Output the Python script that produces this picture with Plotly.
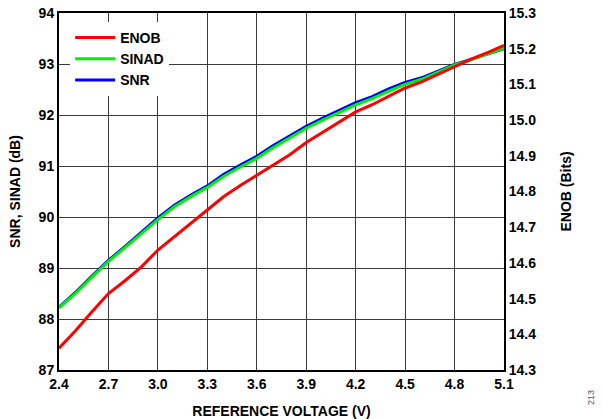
import plotly.graph_objects as go

voltage = [2.4, 2.5, 2.6, 2.7, 2.8, 2.9, 3.0, 3.1, 3.2, 3.3, 3.4, 3.5, 3.6, 3.7,
           3.8, 3.9, 4.0, 4.1, 4.2, 4.3, 4.4, 4.5, 4.6, 4.7, 4.8, 4.9, 5.0, 5.1]

sinad_db = [88.22, 88.50, 88.82, 89.13, 89.40, 89.67, 89.95, 90.20, 90.40, 90.58,
            90.80, 90.98, 91.15, 91.36, 91.55, 91.74, 91.90, 92.05, 92.20, 92.32,
            92.47, 92.60, 92.70, 92.84, 92.98, 93.08, 93.19, 93.31]

snr_db = [88.23, 88.52, 88.84, 89.15, 89.42, 89.70, 89.98, 90.23, 90.43, 90.61,
          90.84, 91.02, 91.19, 91.40, 91.59, 91.78, 91.94, 92.09, 92.24, 92.36,
          92.51, 92.64, 92.73, 92.86, 92.99, 93.09, 93.19, 93.30]

enob_bits = [14.361, 14.410, 14.463, 14.514, 14.550, 14.589, 14.636, 14.674, 14.711,
             14.749, 14.786, 14.817, 14.846, 14.874, 14.903, 14.937, 14.966, 14.994,
             15.023, 15.043, 15.066, 15.090, 15.107, 15.129, 15.151, 15.171, 15.189,
             15.209]

x_ticks = [2.4, 2.7, 3.0, 3.3, 3.6, 3.9, 4.2, 4.5, 4.8, 5.1]
x_tick_labels = ["2.4", "2.7", "3.0", "3.3", "3.6", "3.9", "4.2", "4.5", "4.8", "5.1"]
left_ticks = [87, 88, 89, 90, 91, 92, 93, 94]
right_ticks = [14.3, 14.4, 14.5, 14.6, 14.7, 14.8, 14.9, 15.0, 15.1, 15.2, 15.3]
right_tick_labels = ["14.3", "14.4", "14.5", "14.6", "14.7", "14.8", "14.9",
                     "15.0", "15.1", "15.2", "15.3"]

FONT = "Liberation Sans, Arial, sans-serif"
TF = dict(family=FONT, size=14, color="black", weight="bold")

fig = go.Figure()
fig.add_trace(go.Scatter(x=voltage, y=snr_db, name="SNR", mode="lines",
                         line=dict(color="#0000FF", width=3), yaxis="y"))
fig.add_trace(go.Scatter(x=voltage, y=sinad_db, name="SINAD", mode="lines",
                         line=dict(color="#00F000", width=3), yaxis="y"))
fig.add_trace(go.Scatter(x=voltage, y=enob_bits, name="ENOB", mode="lines",
                         line=dict(color="#FF0000", width=3), yaxis="y2"))

fig.update_layout(
    width=602, height=419,
    margin=dict(l=59, r=98, t=13, b=49, autoexpand=False),
    paper_bgcolor="white", plot_bgcolor="white",
    font=TF,
    showlegend=True,
    legend=dict(x=0.025, y=0.975, xanchor="left", yanchor="top",
                bgcolor="white", borderwidth=0, traceorder="reversed",
                font=TF, itemwidth=40, tracegroupgap=0),
    xaxis=dict(range=[2.4, 5.1], tickvals=x_ticks, ticktext=x_tick_labels,
               showgrid=True, gridcolor="#3a3a3a", gridwidth=1.2,
               showline=True, linecolor="black", linewidth=2, mirror=True,
               ticks="", zeroline=False, automargin=False, tickfont=TF,
               title=dict(text="REFERENCE VOLTAGE (V)", font=TF)),
    yaxis=dict(range=[87, 94], tickvals=left_ticks,
               showgrid=True, gridcolor="#3a3a3a", gridwidth=1.2,
               showline=True, linecolor="black", linewidth=2,
               ticks="", zeroline=False, automargin=False, tickfont=TF,
               title=dict(text="SNR, SINAD (dB)", font=TF)),
    yaxis2=dict(range=[14.3, 15.3], tickvals=right_ticks, ticktext=right_tick_labels,
                overlaying="y", side="right", showgrid=False,
                showline=True, linecolor="black", linewidth=2,
                ticks="", zeroline=False, automargin=False, tickfont=TF),
)

fig.add_annotation(text="ENOB (Bits)", xref="paper", yref="paper",
                   x=1 + (565 - 504) / 445, y=0.5, xanchor="center", yanchor="middle",
                   showarrow=False, textangle=-90, font=TF)

fig.add_annotation(text="213", xref="paper", yref="paper",
                   x=1 + (591 - 504) / 445, y=-(398 - 370) / 357,
                   xanchor="center", yanchor="middle",
                   showarrow=False, textangle=-90,
                   font=dict(family=FONT, size=9, color="#555555", weight="normal"))

fig.write_html("out.html",
               config={"displayModeBar": False},
               post_script="document.body.style.margin='0px';document.body.style.padding='0px';")
